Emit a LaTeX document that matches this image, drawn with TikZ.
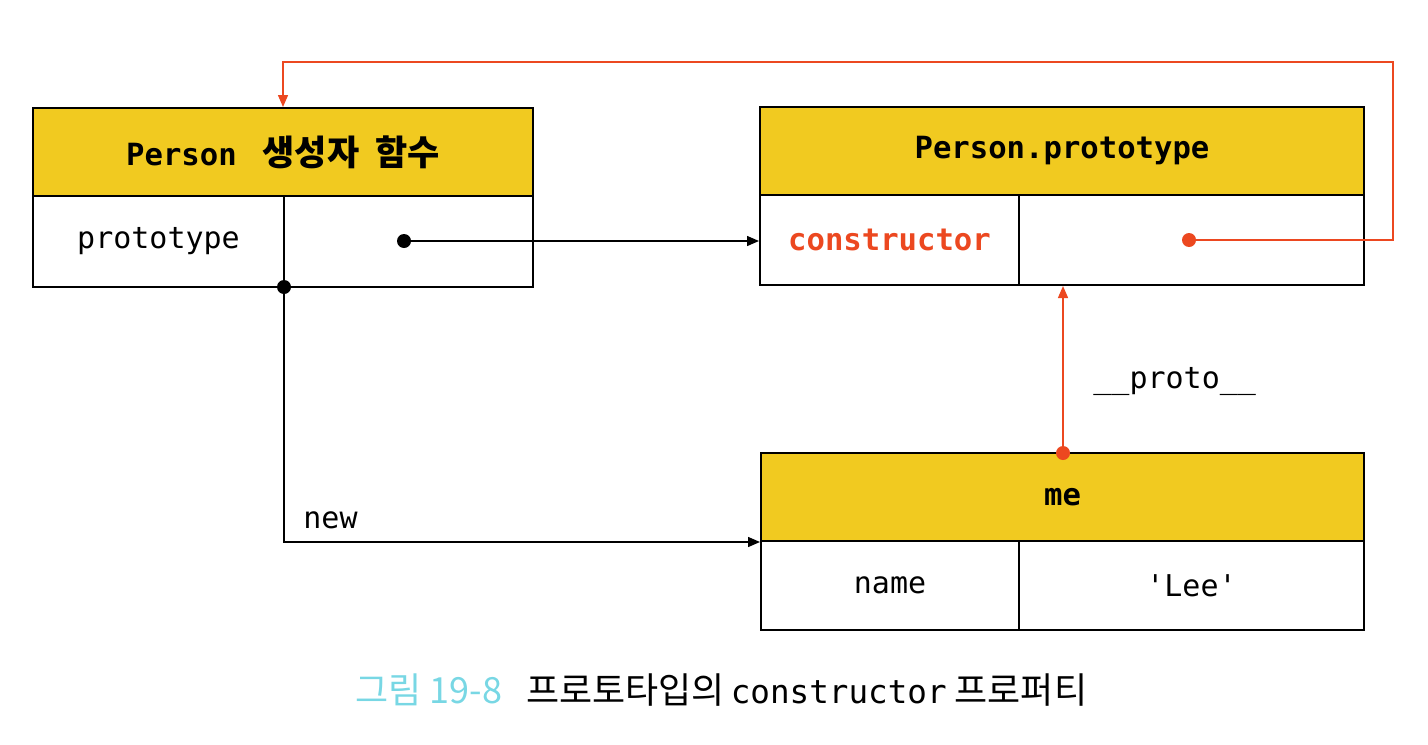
\documentclass[tikz,border=0pt]{standalone}
\usepackage{fontspec}
\setmainfont{DejaVu Sans Mono}
\setmonofont{DejaVu Sans Mono}
\newfontfamily\kr{Noto Sans CJK KR}
\usetikzlibrary{arrows.meta}
\definecolor{hdr}{RGB}{241,202,32}
\definecolor{rd}{RGB}{236,72,32}
\definecolor{capcyan}{RGB}{120,215,228}
\tikzset{
  hdrcell/.style={draw=black, line width=1pt, fill=hdr, minimum height=44pt, inner sep=0pt, font=\ttfamily\fontsize{15.3}{18}\selectfont\bfseries},
  cell/.style={draw=black, line width=1pt, fill=white, inner sep=0pt, font=\ttfamily\fontsize{15}{18}\selectfont},
  conn/.style={line width=0.7pt, -{Triangle[length=6pt,width=5pt]}},
  dotb/.style={circle, fill=black, inner sep=0pt, minimum size=7pt},
  dotr/.style={circle, fill=rd, inner sep=0pt, minimum size=7pt},
  lbl/.style={inner sep=0pt, font=\ttfamily\fontsize{15}{18}\selectfont}
}
\begin{document}
\begin{tikzpicture}[x=0.5pt,y=-0.5pt]
\useasboundingbox (0,0) rectangle (1428,744);
% Person constructor
\node[hdrcell, minimum width=250pt] (pH) at (283,152) {Person\hspace{13pt}{\kr\bfseries\fontsize{17.5}{18}\selectfont 생성자\hspace{4pt} 함수}};
\node[cell, minimum width=125.5pt, minimum height=45.5pt] (pK) at (158.5,241.5) {prototype};
\node[cell, minimum width=124.5pt, minimum height=45.5pt] (pV) at (408.5,241.5) {};
% Person.prototype
\node[hdrcell, minimum width=302pt] (qH) at (1062,151) {Person.prototype};
\node[cell, minimum width=129.5pt, minimum height=45pt, text=rd, font=\ttfamily\fontsize{15.3}{18}\selectfont\bfseries] (qK) at (889.5,240) {constructor};
\node[cell, minimum width=172.5pt, minimum height=45pt] (qV) at (1191.5,240) {};
% me
\node[hdrcell, minimum width=301.5pt] (mH) at (1062.5,497) {me};
\node[cell, minimum width=129pt, minimum height=44.5pt] (mK) at (890,585.5) {name};
\node[cell, minimum width=172.5pt, minimum height=44.5pt] (mV) at (1191.5,585.5) {'Lee'};
% coordinates
\coordinate (d1) at (404,241);
\coordinate (d2) at (284,287);
\coordinate (d3) at (1189,240);
\coordinate (d4) at (1063,453);
\coordinate (c2) at (1393,62);
% connectors
\draw[conn] (d1) -- (d1 -| qK.west);
\draw[conn] (d2) |- (mH.south west);
\draw[conn, draw=rd] (d3) -| (c2) -| (pH.north);
\draw[conn, draw=rd] (d4) -- (d4 |- qV.south);
% dots
\node[dotb] (b1) at (d1) {};
\node[dotb] (b2) at (d2) {};
\node[dotr] (r1) at (d3) {};
\node[dotr] (r2) at (d4) {};
% labels
\node[lbl, anchor=west] (lnew) at (303,520) {new};
\node[lbl, anchor=west] (lproto) at (1093,381) {\_\_proto\_\_};
% caption
\node[inner sep=0pt, anchor=west, font=\fontsize{18}{20}\selectfont] (cap) at (355,690)
  {{\kr\color{capcyan}그림 19-8}\hspace{12pt}{\kr 프로토타입의}\hspace{3pt}{\ttfamily\fontsize{16.3}{20}\selectfont constructor}\hspace{4pt}{\kr 프로퍼티}};
\end{tikzpicture}
\end{document}
